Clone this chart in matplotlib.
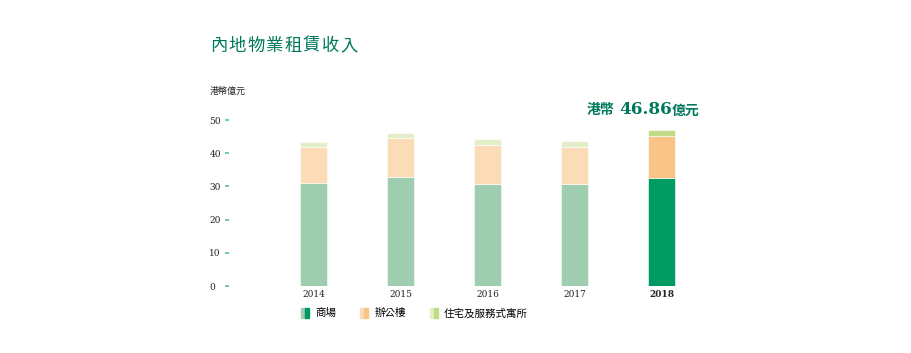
import matplotlib.pyplot as plt
from matplotlib.legend_handler import HandlerTuple
from matplotlib.patches import Patch

years = ['2014', '2015', '2016', '2017', '2018']
retail = [31.0, 32.8, 30.8, 30.8, 32.6]
office = [11.0, 11.9, 11.8, 11.2, 12.5]
residential = [1.4, 1.4, 1.6, 1.6, 1.76]
yticks = [0, 10, 20, 30, 40, 50]

title = '內地物業租賃收入'
unit = '港幣億元'
highlight = '46.86'
labels = ['商場', '辦公樓', '住宅及服務式寓所']

# light colours for earlier years, strong colours for latest year
light = ['#9fcdb0', '#fcdcb6', '#e3efc9']
dark = ['#009a63', '#f8c488', '#c0dc86']
teal = '#00785c'
cjk = ['Noto Sans CJK TC', 'DejaVu Sans']

plt.rcParams['font.family'] = cjk

fig = plt.figure(figsize=(9.12, 3.53), dpi=100)
ax = fig.add_axes([270 / 912, 67 / 353, 435 / 912, 166 / 353])

x = list(range(len(years)))
bottom2 = [r + o for r, o in zip(retail, office)]
for i in x:
    cols = dark if i == len(years) - 1 else light
    ax.bar(i, retail[i], width=0.3, color=cols[0], edgecolor='white', linewidth=0.4)
    ax.bar(i, office[i], bottom=retail[i], width=0.3, color=cols[1], edgecolor='white', linewidth=0.4)
    ax.bar(i, residential[i], bottom=bottom2[i], width=0.3, color=cols[2], edgecolor='white', linewidth=0.4)

ax.set_xlim(-0.5, 4.5)
ax.set_ylim(0, 50)
for s in ax.spines.values():
    s.set_visible(False)
ax.spines['left'].set_position(('outward', 29.5))

ax.set_yticks(yticks)
ax.set_yticklabels([str(v) for v in yticks], family='DejaVu Serif', fontsize=6.5, color='#222222', ha='left')
ax.tick_params(axis='y', direction='out', length=3.2, width=1.1, color='#4cc080', pad=11)

ax.set_xticks(x)
ax.set_xticklabels(years, family='DejaVu Serif', fontsize=6.5, color='#222222')
ax.get_xticklabels()[-1].set_fontweight('bold')
ax.tick_params(axis='x', length=0, pad=3)

# title (slightly letter-spaced) and unit
title_x = 210
for ch in title:
    fig.text(title_x / 912, 1 - 46 / 353, ch, fontsize=12.5, fontweight='medium',
             color=teal, va='center', ha='left')
    title_x += 18.6
fig.text(210 / 912, 1 - 91 / 353, unit, fontsize=6.5, color='#222222', va='center', ha='left')

# highlight total for latest year
total = retail[-1] + office[-1] + residential[-1]
ax.annotate(highlight, xy=(4, total), xytext=(-16, 16), textcoords='offset pixels',
            ha='center', va='baseline', fontsize=12.2, fontweight='bold',
            family='DejaVu Serif', color=teal)
ax.annotate('港幣', xy=(4, total), xytext=(-47, 16), textcoords='offset pixels',
            ha='right', va='baseline', fontsize=10, fontweight='bold', color=teal)
ax.annotate('億元', xy=(4, total), xytext=(10, 16), textcoords='offset pixels',
            ha='left', va='baseline', fontsize=10, fontweight='bold', color=teal)

handles = [(Patch(color=light[k]), Patch(color=dark[k])) for k in range(3)]
fig.legend(handles, labels, handler_map={tuple: HandlerTuple(ndivide=None, pad=0)},
           loc='center left', bbox_to_anchor=(292 / 912, 1 - 313 / 353), ncol=3,
           frameon=False, fontsize=7.6, handlelength=0.75, handleheight=1.1,
           handletextpad=0.55, columnspacing=2.3)

fig.savefig('out.png', dpi=100)
